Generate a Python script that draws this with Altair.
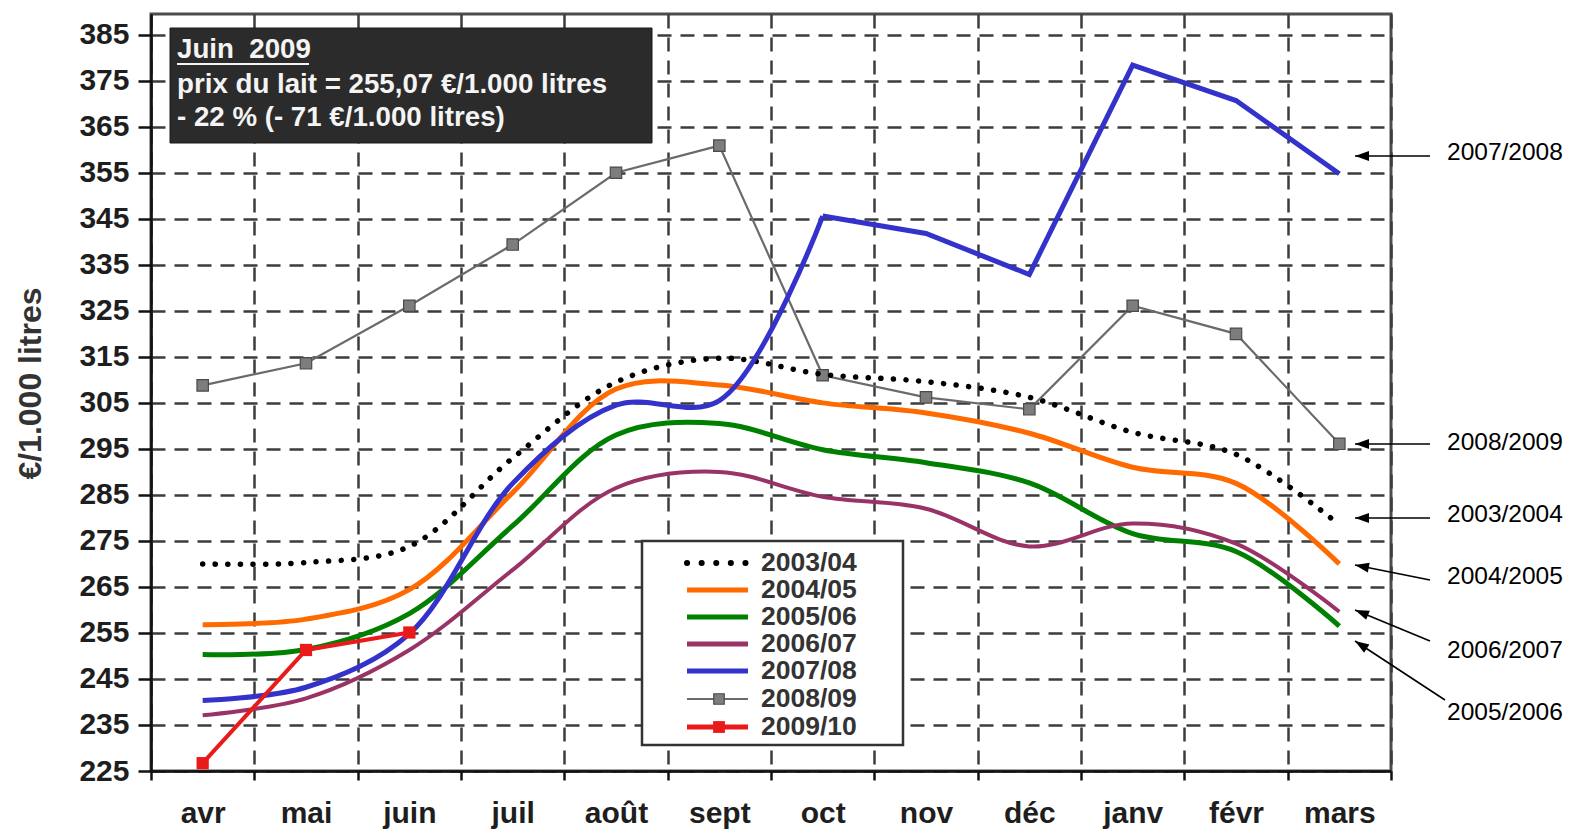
import altair as alt
import pandas as pd

# ---------------- data ----------------
months = ["avr", "mai", "juin", "juil", "août", "sept", "oct", "nov", "déc", "janv", "févr", "mars"]
y_ticks = [225, 235, 245, 255, 265, 275, 285, 295, 305, 315, 325, 335, 345, 355, 365, 375, 385]

s2003_04 = [270.0, 270.3, 273.8, 293.0, 309.5, 314.7, 311.2, 309.6, 306.2, 298.6, 293.8, 278.5]
s2004_05 = [256.8, 258.0, 264.4, 285.5, 308.0, 308.9, 305.0, 302.8, 298.4, 291.0, 287.5, 270.0]
s2005_06 = [250.3, 251.4, 259.2, 278.3, 298.0, 300.5, 294.8, 292.0, 287.6, 276.6, 272.7, 256.5]
s2006_07 = [237.1, 240.8, 251.3, 268.7, 286.5, 290.0, 284.6, 282.0, 273.8, 278.8, 274.4, 259.6]
s2007_08 = [240.3, 243.2, 254.8, 287.5, 304.5, 305.5, 345.6, 341.8, 332.9, 378.4, 370.7, 354.8]
s2008_09 = [308.8, 313.6, 326.1, 339.4, 355.0, 360.9, 311.0, 306.2, 303.6, 326.1, 320.0, 296.1]
s2009_10 = [226.7, 251.3, 255.1]

legend_names = ["2003/04", "2004/05", "2005/06", "2006/07", "2007/08", "2008/09", "2009/10"]
arrow_labels = ["2007/2008", "2008/2009", "2003/2004", "2004/2005", "2006/2007", "2005/2006"]
box_lines = ["Juin\u00a0\u00a02009", "prix du lait = 255,07 €/1.000 litres", "- 22 % (- 71 €/1.000 litres)"]

FONT = "Liberation Sans"
SMOOTH = "catmull-rom"

# colours
C_ORANGE = "#ff6a00"
C_GREEN = "#008000"
C_PURPLE = "#993366"
C_BLUE = "#3333cc"
C_GRAY = "#6a6a6a"
C_RED = "#ea1a1a"

W, H = 1240, 757

x_scale = alt.Scale(type="band", domain=months, paddingInner=0, paddingOuter=0)
x_axis = alt.Axis(
    title=None, tickBand="extent", labelAngle=0,
    labelFont=FONT, labelFontSize=30, labelFontWeight="bold", labelColor="#1e1e1e",
    labelBaseline="alphabetic", labelPadding=42,
    domainColor="#111", domainWidth=2.5, tickColor="#111", tickWidth=2.5, tickSize=9,
    grid=True, gridColor="#3c3c3c", gridWidth=2.5, gridDash=[14, 9],
)
y_scale = alt.Scale(domain=[225, 389.5], nice=False, zero=False)
y_axis = alt.Axis(
    title="€/1.000 litres", values=y_ticks,
    titleFont=FONT, titleFontSize=32, titleFontWeight="bold", titleColor="#333",
    titleAngle=270, titleX=-121, titleY=369, titleAlign="center", titleBaseline="middle",
    labelFont=FONT, labelFontSize=30, labelFontWeight="bold", labelColor="#1e1e1e", labelPadding=9,
    domainColor="#111", domainWidth=2.5, tickColor="#111", tickWidth=2.5, tickSize=13,
    grid=True, gridColor="#3c3c3c", gridWidth=2.5, gridDash=[14, 9],
)


def series_df(vals, mlist=None):
    mlist = mlist if mlist is not None else months[: len(vals)]
    return pd.DataFrame({"mois": mlist, "v": vals})


def enc(ch):
    return ch.encode(
        x=alt.X("mois:N", sort=months, scale=x_scale, axis=x_axis, bandPosition=0.5),
        y=alt.Y("v:Q", scale=y_scale, axis=y_axis),
    )


layers = []

# 2008/09 grey line with squares
layers.append(enc(alt.Chart(series_df(s2008_09)).mark_line(color=C_GRAY, strokeWidth=2.2)))
layers.append(enc(alt.Chart(series_df(s2008_09)).mark_square(size=130, color="#7d7d7d", stroke="#4a4a4a", strokeWidth=1.2, opacity=1)))

# smoothed series
layers.append(enc(alt.Chart(series_df(s2003_04)).mark_line(
    interpolate=SMOOTH, color="black", strokeWidth=5.5, strokeDash=[0.1, 12.5], strokeCap="round")))
layers.append(enc(alt.Chart(series_df(s2004_05)).mark_line(interpolate=SMOOTH, color=C_ORANGE, strokeWidth=5)))
layers.append(enc(alt.Chart(series_df(s2005_06)).mark_line(interpolate=SMOOTH, color=C_GREEN, strokeWidth=5)))
layers.append(enc(alt.Chart(series_df(s2006_07)).mark_line(interpolate=SMOOTH, color=C_PURPLE, strokeWidth=4)))

# 2007/08 : smooth until oct, straight afterwards
blue_df = series_df(s2007_08)
layers.append(enc(alt.Chart(blue_df.iloc[:7]).mark_line(interpolate=SMOOTH, color=C_BLUE, strokeWidth=5)))
layers.append(enc(alt.Chart(blue_df.iloc[6:]).mark_line(color=C_BLUE, strokeWidth=5)))

# 2009/10 red
layers.append(enc(alt.Chart(series_df(s2009_10)).mark_line(color=C_RED, strokeWidth=4)))
layers.append(enc(alt.Chart(series_df(s2009_10)).mark_square(size=150, color=C_RED, opacity=1)))

# ---------------- info box ----------------
box = pd.DataFrame({"x1": [19], "x2": [501], "y1": [14], "y2": [129]})
layers.append(alt.Chart(box).mark_rect(fill="#2b2b2b", stroke="#1a1a1a", strokeWidth=1).encode(
    x=alt.X("x1:Q", scale=None), x2="x2:Q", y=alt.Y("y1:Q", scale=None), y2="y2:Q"))
box_txt = pd.DataFrame({"t": box_lines, "px": [26, 26, 26], "py": [36, 71, 104]})
layers.append(alt.Chart(box_txt).mark_text(
    align="left", baseline="middle", font=FONT, fontSize=27.7, fontWeight="bold", color="#f4f4f4").encode(
    x=alt.X("px:Q", scale=None), y=alt.Y("py:Q", scale=None), text="t:N"))
uline = pd.DataFrame({"x1": [26], "x2": [158], "y1": [50]})
layers.append(alt.Chart(uline).mark_rule(color="#f4f4f4", strokeWidth=2).encode(
    x=alt.X("x1:Q", scale=None), x2="x2:Q", y=alt.Y("y1:Q", scale=None)))

# ---------------- legend ----------------
leg_y = [549, 576, 603, 630, 657, 685, 713]
leg_box = pd.DataFrame({"x1": [491], "x2": [752], "y1": [527], "y2": [731]})
layers.append(alt.Chart(leg_box).mark_rect(fill="white", stroke="#333", strokeWidth=2.5).encode(
    x=alt.X("x1:Q", scale=None), x2="x2:Q", y=alt.Y("y1:Q", scale=None), y2="y2:Q"))
leg = pd.DataFrame({"name": legend_names, "ly": leg_y, "lx1": [536] * 7, "lx2": [597] * 7,
                    "tx": [610] * 7, "sx": [568] * 7,
                    "col": ["black", C_ORANGE, C_GREEN, C_PURPLE, C_BLUE, C_GRAY, C_RED]})
layers.append(alt.Chart(leg.iloc[[0]]).mark_rule(strokeWidth=6, strokeDash=[0.1, 14.5], strokeCap="round", color="black").encode(
    x=alt.X("lx1:Q", scale=None), x2="lx2:Q", y=alt.Y("ly:Q", scale=None)))
layers.append(alt.Chart(leg.iloc[1:5]).mark_rule(strokeWidth=5).encode(
    x=alt.X("lx1:Q", scale=None), x2="lx2:Q", y=alt.Y("ly:Q", scale=None), color=alt.Color("col:N", scale=None)))
layers.append(alt.Chart(leg.iloc[[5]]).mark_rule(strokeWidth=2, color=C_GRAY).encode(
    x=alt.X("lx1:Q", scale=None), x2="lx2:Q", y=alt.Y("ly:Q", scale=None)))
layers.append(alt.Chart(leg.iloc[[5]]).mark_square(size=110, color="#7d7d7d", stroke="#4a4a4a", strokeWidth=1.2, opacity=1).encode(
    x=alt.X("sx:Q", scale=None), y=alt.Y("ly:Q", scale=None)))
layers.append(alt.Chart(leg.iloc[[6]]).mark_rule(strokeWidth=5, color=C_RED).encode(
    x=alt.X("lx1:Q", scale=None), x2="lx2:Q", y=alt.Y("ly:Q", scale=None)))
layers.append(alt.Chart(leg.iloc[[6]]).mark_square(size=140, color=C_RED, opacity=1).encode(
    x=alt.X("sx:Q", scale=None), y=alt.Y("ly:Q", scale=None)))
layers.append(alt.Chart(leg).mark_text(align="left", baseline="middle", font=FONT, fontSize=26.5,
                                       fontWeight="bold", color="#333").encode(
    x=alt.X("tx:Q", scale=None), y=alt.Y("ly:Q", scale=None), text="name:N"))

# ---------------- right-hand annotations ----------------
ann = pd.DataFrame({
    "label": arrow_labels,
    "tx": [1296] * 6,
    "ty": [139, 429, 501, 563, 637, 699],
    "ax1": [1279, 1279, 1279, 1279, 1279, 1294],
    "ay1": [142, 430, 504, 566, 627, 686],
    "ax2": [1204, 1204, 1204, 1204, 1204, 1204],
    "ay2": [142, 430, 504, 551, 596, 627],
    "ang": [0, 0, 0, 11, 22, 33],
})
layers.append(alt.Chart(ann).mark_rule(color="black", strokeWidth=1.6).encode(
    x=alt.X("ax1:Q", scale=None), x2="ax2:Q", y=alt.Y("ay1:Q", scale=None), y2="ay2:Q"))
layers.append(alt.Chart(ann).mark_point(shape="M 0 0 L 2 -0.7 L 2 0.7 Z", size=196, filled=True,
                                        color="black", opacity=1).encode(
    x=alt.X("ax2:Q", scale=None), y=alt.Y("ay2:Q", scale=None), angle=alt.Angle("ang:Q", scale=None)))
layers.append(alt.Chart(ann).mark_text(align="left", baseline="middle", font=FONT, fontSize=24.5, color="black").encode(
    x=alt.X("tx:Q", scale=None), y=alt.Y("ty:Q", scale=None), text="label:N"))

chart = alt.layer(*layers).properties(
    width=W, height=H,
    padding={"left": 143, "top": 6, "right": 179, "bottom": 58},
    autosize=alt.AutoSizeParams(type="none"),
    background="white",
).configure_view(stroke="#4d4d4d", strokeWidth=3)

chart.save("out.html", embed_options={"renderer": "svg", "actions": False})
